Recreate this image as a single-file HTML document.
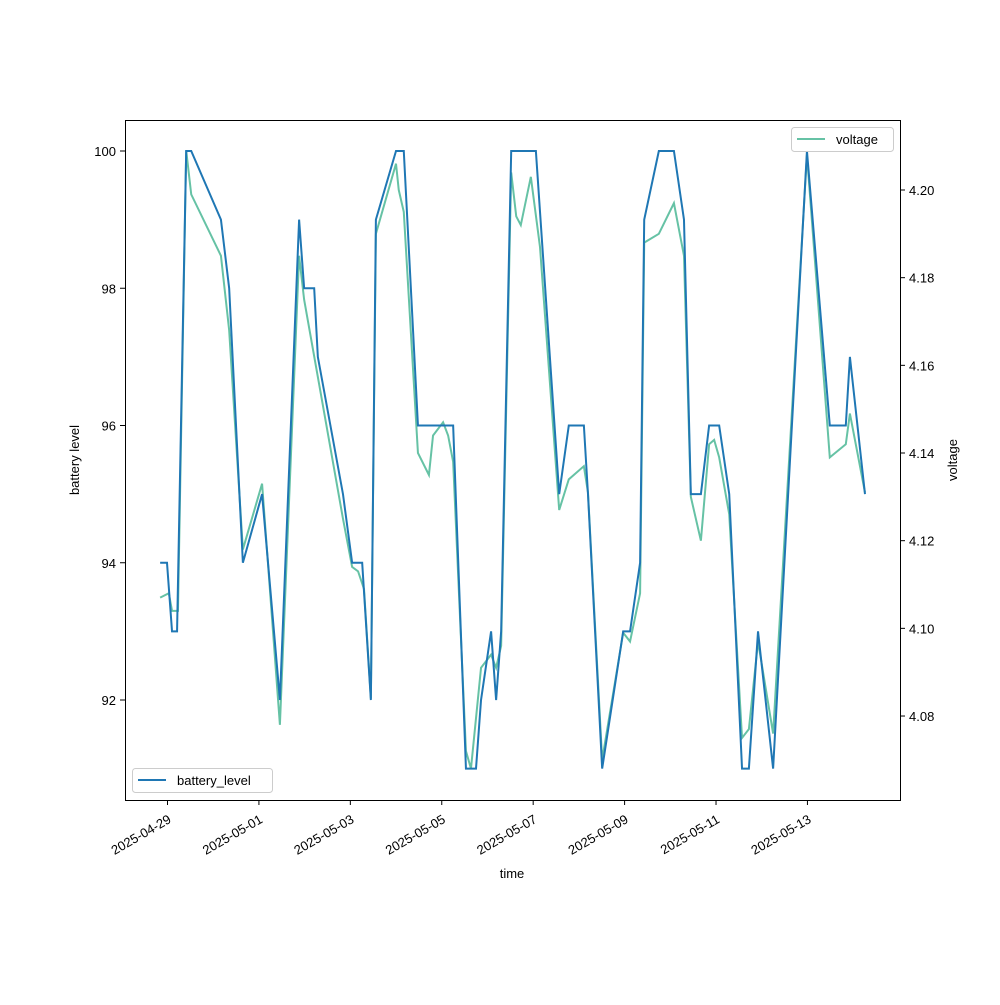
<!DOCTYPE html>
<html><head><meta charset="utf-8"><style>body{margin:0;background:#fff}svg{font-family:"Liberation Sans","DejaVu Sans",sans-serif}</style></head>
<body>
<svg id="c" width="1000" height="1000" viewBox="0 0 1000 1000"></svg>
<script>
const batteryDays=[-0.15,0,0.11,0.22,0.42,0.53,1.18,1.36,1.66,2.08,2.47,2.89,3.00,3.22,3.30,3.85,4.05,4.27,4.46,4.57,5.01,5.18,5.49,6.26,6.54,6.76,6.87,7.09,7.20,7.31,7.53,8.07,8.58,8.79,9.12,9.21,9.52,9.98,10.13,10.35,10.44,10.76,11.09,11.31,11.46,11.68,11.86,12.08,12.30,12.58,12.73,12.93,13.26,14.00,14.50,14.85,14.94,15.27];
const batteryLevel=[94,94,93,93,100,100,99,98,94,95,92,99,98,98,97,95,94,94,92,99,100,100,96,96,91,91,92,93,92,93,100,100,95,96,96,95,91,93,93,94,99,100,100,99,95,95,96,96,95,91,91,93,91,100,96,96,97,95];
const voltageDays=[-0.15,0.04,0.11,0.24,0.42,0.53,1.18,1.36,1.66,2.08,2.47,2.89,3.00,3.85,4.05,4.18,4.31,4.46,4.57,5.01,5.07,5.18,5.49,5.73,5.82,6.04,6.15,6.26,6.54,6.65,6.87,7.09,7.20,7.31,7.53,7.64,7.74,7.96,8.16,8.58,8.79,9.12,9.21,9.52,9.98,10.13,10.35,10.44,10.76,11.09,11.31,11.46,11.68,11.86,11.97,12.08,12.30,12.58,12.73,12.93,13.26,14.00,14.50,14.85,14.94,15.27];
const voltage=[4.107,4.108,4.104,4.104,4.209,4.199,4.185,4.168,4.118,4.133,4.078,4.185,4.175,4.125,4.114,4.113,4.109,4.084,4.190,4.206,4.200,4.195,4.140,4.135,4.144,4.147,4.144,4.138,4.072,4.068,4.091,4.094,4.091,4.096,4.204,4.194,4.192,4.203,4.187,4.127,4.134,4.137,4.131,4.070,4.099,4.097,4.108,4.188,4.190,4.197,4.185,4.130,4.120,4.142,4.143,4.139,4.126,4.075,4.077,4.097,4.076,4.208,4.139,4.142,4.149,4.131];
const xTickDays=[0,2,4,6,8,10,12,14];
const xTickLabels=["2025-04-29","2025-05-01","2025-05-03","2025-05-05","2025-05-07","2025-05-09","2025-05-11","2025-05-13"];
const leftTicks=[92,94,96,98,100];
const rightTicks=[4.08,4.10,4.12,4.14,4.16,4.18,4.20];

const svg=document.getElementById('c');const NS='http://www.w3.org/2000/svg';
const X=d=>167+d*45.71, YL=v=>151+(100-v)*68.625, YR=v=>190+(4.20-v)*4383.5;
function mk(t,a,p){const e=document.createElementNS(NS,t);for(const k in a)e.setAttribute(k,a[k]);(p||svg).appendChild(e);return e;}
function txt(s,a){const e=mk('text',a);e.textContent=s;return e;}
let e=mk('polyline',{points:voltageDays.map((d,i)=>X(d)+','+YR(voltage[i])).join(' '),fill:'none',stroke:'#66c2a5','stroke-width':2});


e=mk('polyline',{points:batteryDays.map((d,i)=>X(d)+','+YL(batteryLevel[i])).join(' '),fill:'none',stroke:'#1f77b4','stroke-width':2});


e=mk('rect',{x:125.5,y:120.5,width:775,height:680,fill:'none',stroke:'#000','stroke-width':1});


xTickDays.forEach((d,i)=>{const x=X(d)+0.5;mk('line',{x1:x,x2:x,y1:800,y2:805,stroke:'#000'});
 e=txt(xTickLabels[i],{x:x,y:814,'font-size':13,'text-anchor':'end',transform:`rotate(-30 ${x} 814)`,dy:'0.7em'});
 
 });
leftTicks.forEach(v=>{const y=YL(v);mk('line',{x1:120,x2:125,y1:y,y2:y,stroke:'#000'});
 e=txt(String(v),{x:116,y:y+5,'font-size':13,'text-anchor':'end'});
 
 });
rightTicks.forEach(v=>{const y=YR(v);mk('line',{x1:900,x2:905,y1:y,y2:y,stroke:'#000'});
 e=txt(v.toFixed(2),{x:909,y:y+5,'font-size':13});
 
 });
</script>
<svg width="1000" height="1000" style="position:absolute;left:0;top:0">
<text x="512" y="878" font-size="13" text-anchor="middle" font-family="Liberation Sans,sans-serif">time</text>
<text x="79" y="460" font-size="13" text-anchor="middle" transform="rotate(-90 79 460)" font-family="Liberation Sans,sans-serif">battery level</text>
<text x="957" y="460" font-size="13" text-anchor="middle" transform="rotate(-90 957 460)" font-family="Liberation Sans,sans-serif">voltage</text>
<g><rect x="132.5" y="768.5" width="140" height="24" rx="3" fill="#fff" fill-opacity="0.8" stroke="#ccc"/><line x1="138" x2="166" y1="780" y2="780" stroke="#1f77b4" stroke-width="2"/><text x="177" y="785" font-size="13" font-family="Liberation Sans,sans-serif">battery_level</text></g>
<g><rect x="791.5" y="127.5" width="102" height="24" rx="3" fill="#fff" fill-opacity="0.8" stroke="#ccc"/><line x1="797" x2="825" y1="139" y2="139" stroke="#66c2a5" stroke-width="2"/><text x="836" y="144" font-size="13" font-family="Liberation Sans,sans-serif">voltage</text></g>
</svg>
</body></html>
